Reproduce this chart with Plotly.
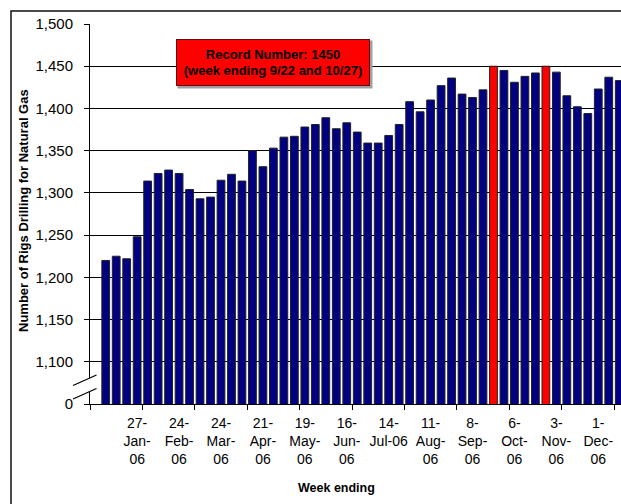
import plotly.graph_objects as go

weeks = ["6-Jan-06", "13-Jan-06", "20-Jan-06", "27-Jan-06", "3-Feb-06", "10-Feb-06", "17-Feb-06", "24-Feb-06",
         "3-Mar-06", "10-Mar-06", "17-Mar-06", "24-Mar-06", "31-Mar-06", "7-Apr-06", "14-Apr-06", "21-Apr-06",
         "28-Apr-06", "5-May-06", "12-May-06", "19-May-06", "26-May-06", "2-Jun-06", "9-Jun-06", "16-Jun-06",
         "23-Jun-06", "30-Jun-06", "7-Jul-06", "14-Jul-06", "21-Jul-06", "28-Jul-06", "4-Aug-06", "11-Aug-06",
         "18-Aug-06", "25-Aug-06", "1-Sep-06", "8-Sep-06", "15-Sep-06", "22-Sep-06", "29-Sep-06", "6-Oct-06",
         "13-Oct-06", "20-Oct-06", "27-Oct-06", "3-Nov-06", "10-Nov-06", "17-Nov-06", "24-Nov-06", "1-Dec-06",
         "8-Dec-06", "15-Dec-06"]

rigs = [1220, 1225, 1222, 1248, 1314, 1323, 1327, 1323, 1304, 1293, 1295, 1315, 1322, 1314, 1350, 1331,
        1353, 1366, 1367, 1378, 1381, 1389, 1376, 1383, 1372, 1359, 1359, 1368, 1381, 1408, 1396, 1410,
        1427, 1436, 1417, 1413, 1422, 1450, 1445, 1431, 1438, 1442, 1450, 1443, 1415, 1402, 1394, 1423,
        1437, 1433]

record = 1450

label_weeks = ["27-Jan-06", "24-Feb-06", "24-Mar-06", "21-Apr-06", "19-May-06", "16-Jun-06", "14-Jul-06",
               "11-Aug-06", "8-Sep-06", "6-Oct-06", "3-Nov-06", "1-Dec-06"]
label_text = ["27-<br>Jan-<br>06", "24-<br>Feb-<br>06", "24-<br>Mar-<br>06", "21-<br>Apr-<br>06",
              "19-<br>May-<br>06", "16-<br>Jun-<br>06", "14-<br>Jul-06", "11-<br>Aug-<br>06",
              "8-<br>Sep-<br>06", "6-<br>Oct-<br>06", "3-<br>Nov-<br>06", "1-<br>Dec-<br>06"]

y_ticks = [1050, 1100, 1150, 1200, 1250, 1300, 1350, 1400, 1450, 1500]
y_text = ["0", "1,100", "1,150", "1,200", "1,250", "1,300", "1,350", "1,400", "1,450", "1,500"]

FONT = "Liberation Sans, Arial, sans-serif"

colors = ["#FF0000" if v == record else "#000080" for v in rigs]

W, H = 621, 504
L, R, T, B = 90, 0, 24, 100
pw, ph = W - L - R, H - T - B
X_RANGE = [-1.5, -1.5 + pw / 10.48]

def px(x):
    return (x - L) / pw

def py(y):
    return (H - B - y) / ph

fig = go.Figure()
fig.add_trace(go.Bar(
    x=weeks, y=rigs, marker=dict(color=colors, line=dict(color="#222222", width=1)),
    showlegend=False, hoverinfo="x+y"))
fig.add_trace(go.Scatter(x=[], y=[], xaxis="x2", showlegend=False, hoverinfo="skip"))

shapes = []
# outer frame
shapes.append(dict(type="rect", xref="paper", yref="paper", x0=px(11), x1=1.2, y0=-0.5, y1=py(11),
                   line=dict(color="#111111", width=1.5), fillcolor="rgba(0,0,0,0)", layer="below"))
# axis break marks
shapes.append(dict(type="path", xref="paper", yref="paper",
                   path=f"M {px(73)} {py(385.5)} L {px(96.5)} {py(375)} L {px(96.5)} {py(388.5)} L {px(73)} {py(399)} Z",
                   fillcolor="white", line=dict(width=0), layer="above"))
shapes.append(dict(type="line", xref="paper", yref="paper", x0=px(73), y0=py(385.5), x1=px(96.5), y1=py(375),
                   line=dict(color="black", width=1.3)))
shapes.append(dict(type="line", xref="paper", yref="paper", x0=px(73), y0=py(399), x1=px(96.5), y1=py(388.5),
                   line=dict(color="black", width=1.3)))

annotations = [
    dict(text="<b>Number of Rigs Drilling for Natural Gas</b>", xref="paper", yref="paper",
         x=px(23), y=py(211), textangle=-90, showarrow=False, font=dict(family=FONT, size=13, color="black"),
         xanchor="center", yanchor="middle"),
    dict(text="<b>Week ending</b>", xref="paper", yref="paper", x=px(336), y=py(488), showarrow=False,
         font=dict(family=FONT, size=12.5, color="black"), xanchor="center", yanchor="middle"),
    dict(text="", xref="paper", yref="paper", x=px(275), y=py(64.5), showarrow=False,
         width=190, height=43, bgcolor="#A0A0A0", borderpad=2, xanchor="center", yanchor="middle"),
    dict(text="<b>Record Number: 1450<br>(week ending 9/22 and 10/27)</b>", xref="paper", yref="paper",
         x=px(273), y=py(62.5), showarrow=False, width=190, height=43, bgcolor="#FF0000",
         bordercolor="#5a1010", borderwidth=1, borderpad=1, xanchor="center", yanchor="middle",
         font=dict(family=FONT, size=13, color="black")),
]

fig.update_layout(
    width=W, height=H, margin=dict(l=L, r=R, t=T, b=B, pad=0),
    paper_bgcolor="white", plot_bgcolor="white", bargap=0.26,
    font=dict(family=FONT, color="black"),
    xaxis=dict(type="category", range=X_RANGE, tickmode="array", tickvals=label_weeks, ticktext=label_text,
               ticks="", showgrid=False, showline=True, linecolor="black", linewidth=1,
               tickfont=dict(family=FONT, size=14, color="black"), ticklabelstandoff=6, tickangle=0),
    xaxis2=dict(overlaying="x", anchor="y", side="bottom", range=X_RANGE, tickmode="array",
                tickvals=[-1.5 + 5 * j for j in range(11)], ticks="outside", ticklen=5, tickcolor="black",
                showticklabels=False, showgrid=False, showline=False, zeroline=False),
    yaxis=dict(range=[1050, 1500], tickmode="array", tickvals=y_ticks, ticktext=y_text,
               showgrid=True, gridcolor="black", gridwidth=1, showline=True, linecolor="black", linewidth=1,
               ticks="outside", ticklen=5, tickcolor="black", zeroline=False,
               tickfont=dict(family=FONT, size=15, color="black"), ticklabelstandoff=8),
    shapes=shapes, annotations=annotations,
)

fig.write_html("out.html", config={"displayModeBar": False},
               post_script="document.body.style.margin='0px';document.body.style.overflow='hidden';")
